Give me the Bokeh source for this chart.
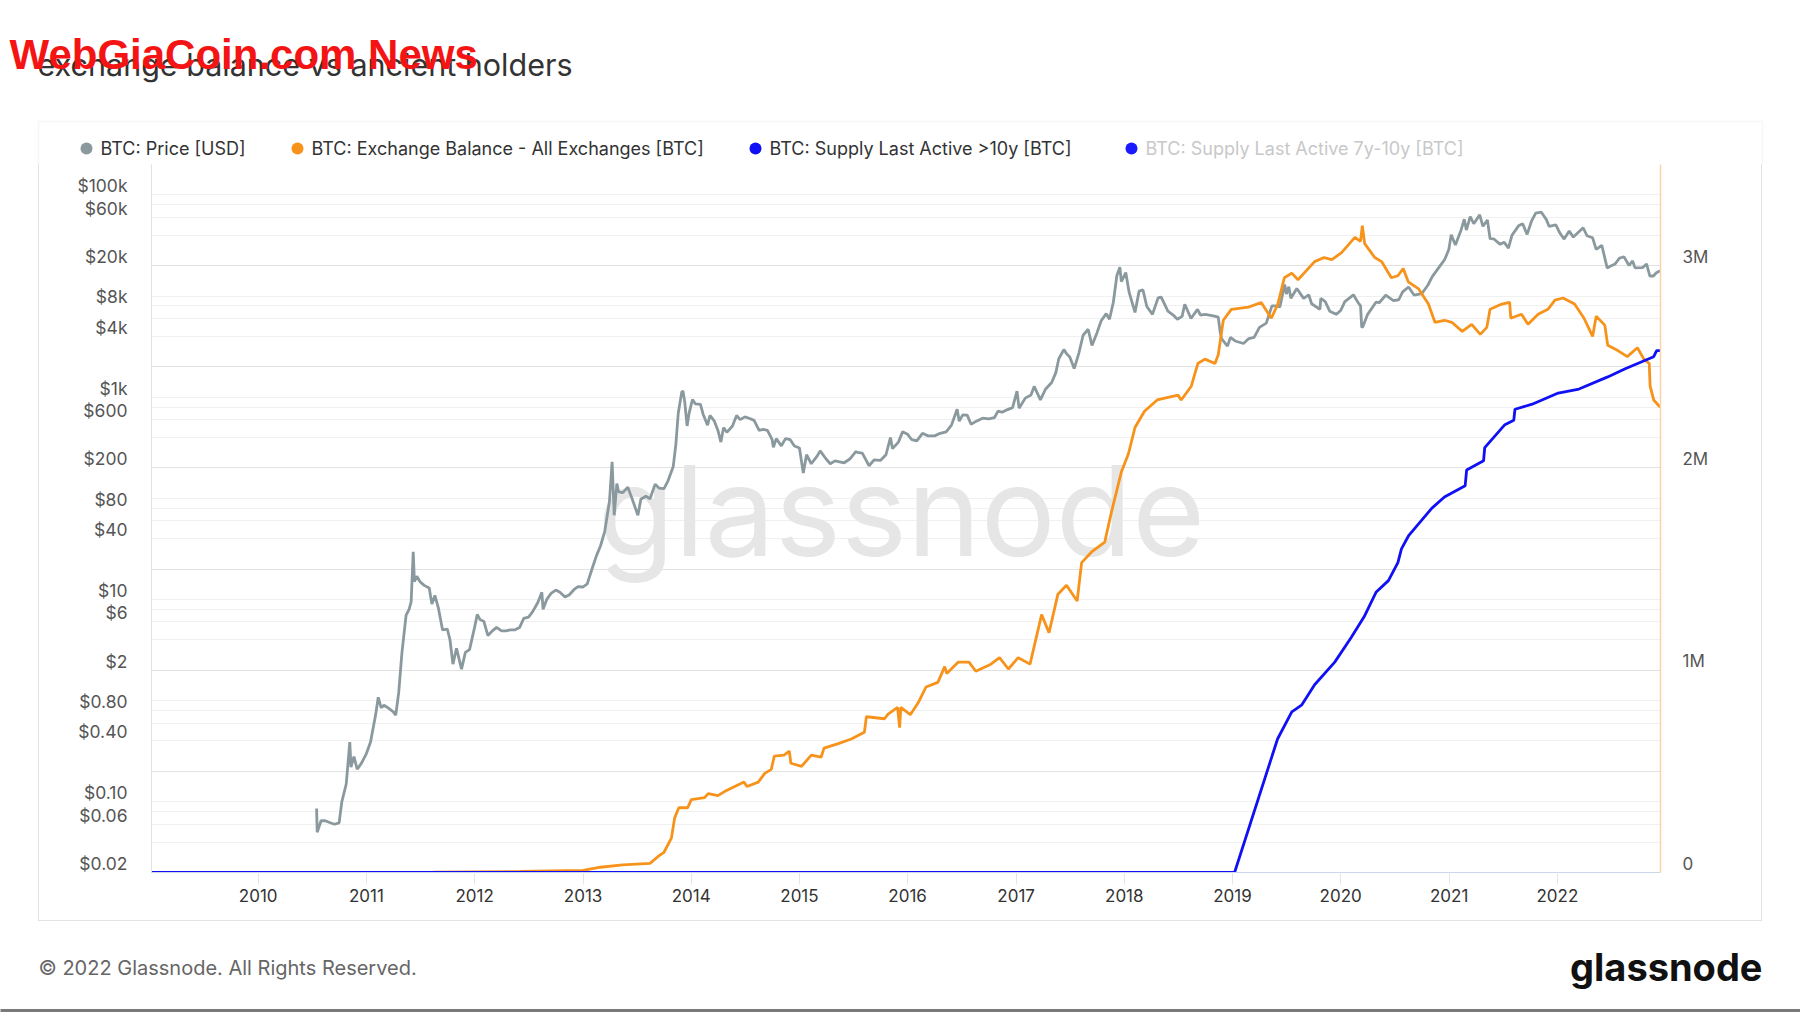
import pandas as pd
from bokeh.plotting import figure
from bokeh.layouts import column, row
from bokeh.models import (Range1d, LinearScale, LogScale, LogAxis, LinearAxis, DatetimeAxis,
                          FixedTicker, Grid, Label, BoxAnnotation, Spacer)
from bokeh.embed import file_html
from bokeh.resources import INLINE

# ---------------- data ----------------
price_dates = [
    "2010-07-17", "2010-07-19", "2010-08-01", "2010-08-15", "2010-09-01", "2010-09-15", "2010-10-01",
    "2010-10-10", "2010-10-25", "2010-11-06", "2010-11-10", "2010-11-20", "2010-12-01", "2010-12-15",
    "2011-01-01", "2011-01-15", "2011-02-01", "2011-02-10", "2011-02-20", "2011-03-01", "2011-03-15",
    "2011-04-01", "2011-04-10", "2011-04-20", "2011-05-01", "2011-05-15", "2011-05-25", "2011-06-01",
    "2011-06-08", "2011-06-12", "2011-06-20", "2011-07-01", "2011-07-15", "2011-08-01", "2011-08-10",
    "2011-08-20", "2011-09-01", "2011-09-15", "2011-10-01", "2011-10-10", "2011-10-20", "2011-11-01",
    "2011-11-18", "2011-12-01", "2011-12-15", "2012-01-01", "2012-01-10", "2012-01-20", "2012-02-01",
    "2012-02-15", "2012-03-01", "2012-03-15", "2012-04-01", "2012-04-15", "2012-05-01", "2012-05-15",
    "2012-06-01", "2012-06-15", "2012-07-01", "2012-07-15", "2012-08-01", "2012-08-15", "2012-08-19",
    "2012-09-01", "2012-09-15", "2012-10-01", "2012-10-15", "2012-11-01", "2012-11-15", "2012-12-01",
    "2012-12-15", "2013-01-01", "2013-01-15", "2013-02-01", "2013-02-15", "2013-03-01", "2013-03-15",
    "2013-03-31", "2013-04-09", "2013-04-16", "2013-04-25", "2013-05-01", "2013-05-15", "2013-06-01",
    "2013-06-15", "2013-07-05", "2013-07-15", "2013-08-01", "2013-08-15", "2013-09-01", "2013-09-15",
    "2013-10-01", "2013-10-15", "2013-11-01", "2013-11-10", "2013-11-18", "2013-11-30", "2013-12-04",
    "2013-12-10", "2013-12-18", "2013-12-25", "2014-01-05", "2014-01-15", "2014-02-01", "2014-02-10",
    "2014-02-25", "2014-03-05", "2014-03-20", "2014-04-01", "2014-04-11", "2014-04-20", "2014-05-01",
    "2014-05-20", "2014-06-03", "2014-06-15", "2014-07-01", "2014-07-15", "2014-08-01", "2014-08-18",
    "2014-09-01", "2014-09-15", "2014-10-01", "2014-10-05", "2014-10-15", "2014-11-01", "2014-11-15",
    "2014-12-01", "2014-12-15", "2015-01-01", "2015-01-14", "2015-01-25", "2015-02-10", "2015-03-01",
    "2015-03-12", "2015-04-01", "2015-04-15", "2015-05-01", "2015-06-01", "2015-06-20", "2015-07-10",
    "2015-07-15", "2015-08-01", "2015-08-24", "2015-09-10", "2015-10-01", "2015-10-20", "2015-11-04",
    "2015-11-11", "2015-12-01", "2015-12-15", "2016-01-01", "2016-01-15", "2016-02-01", "2016-02-20",
    "2016-03-10", "2016-04-01", "2016-04-20", "2016-05-10", "2016-05-28", "2016-06-16", "2016-06-23",
    "2016-07-05", "2016-07-20", "2016-08-02", "2016-08-20", "2016-09-10", "2016-10-01", "2016-10-20",
    "2016-11-01", "2016-11-15", "2016-12-01", "2016-12-20", "2017-01-04", "2017-01-11", "2017-02-01",
    "2017-02-20", "2017-03-03", "2017-03-24", "2017-04-10", "2017-05-01", "2017-05-15", "2017-05-25",
    "2017-06-11", "2017-06-20", "2017-07-01", "2017-07-16", "2017-08-01", "2017-08-15", "2017-09-01",
    "2017-09-14", "2017-10-01", "2017-10-15", "2017-11-01", "2017-11-12", "2017-11-25", "2017-12-07",
    "2017-12-17", "2017-12-22", "2018-01-06", "2018-01-17", "2018-02-06", "2018-02-20", "2018-03-05",
    "2018-03-18", "2018-04-06", "2018-04-25", "2018-05-05", "2018-05-28", "2018-06-15", "2018-06-29",
    "2018-07-15", "2018-07-24", "2018-08-14", "2018-09-05", "2018-09-15", "2018-10-01", "2018-11-01",
    "2018-11-14", "2018-11-20", "2018-11-25", "2018-12-15", "2018-12-25", "2019-01-10", "2019-02-07",
    "2019-02-25", "2019-03-15", "2019-04-02", "2019-04-25", "2019-05-14", "2019-05-25", "2019-06-10",
    "2019-06-26", "2019-07-02", "2019-07-10", "2019-07-17", "2019-08-06", "2019-08-29", "2019-09-15",
    "2019-09-25", "2019-10-23", "2019-10-26", "2019-11-10", "2019-11-25", "2019-12-17", "2020-01-01",
    "2020-01-15", "2020-02-13", "2020-02-28", "2020-03-08", "2020-03-12", "2020-03-16", "2020-04-01",
    "2020-04-29", "2020-05-10", "2020-06-01", "2020-06-27", "2020-07-15", "2020-07-28", "2020-08-17",
    "2020-09-05", "2020-10-01", "2020-10-21", "2020-11-05", "2020-11-30", "2020-12-17", "2020-12-31",
    "2021-01-08", "2021-01-22", "2021-02-10", "2021-02-21", "2021-02-28", "2021-03-13", "2021-03-25",
    "2021-04-14", "2021-04-25", "2021-05-10", "2021-05-19", "2021-06-01", "2021-06-22", "2021-07-06",
    "2021-07-20", "2021-08-01", "2021-08-23", "2021-09-06", "2021-09-21", "2021-10-06", "2021-10-20",
    "2021-11-08", "2021-11-25", "2021-12-04", "2021-12-27", "2022-01-10", "2022-01-24", "2022-02-10",
    "2022-02-24", "2022-03-29", "2022-04-11", "2022-04-30", "2022-05-12", "2022-05-31", "2022-06-18",
    "2022-06-30", "2022-07-15", "2022-07-30", "2022-08-14", "2022-08-31", "2022-09-12", "2022-09-20",
    "2022-10-15", "2022-10-29", "2022-11-09", "2022-11-21", "2022-12-01", "2022-12-14",
]
price_usd = [
    0.086, 0.05, 0.065, 0.065, 0.062, 0.06, 0.062,
    0.10, 0.15, 0.39, 0.22, 0.28, 0.21, 0.24,
    0.30, 0.39, 0.72, 1.08, 0.85, 0.90, 0.85,
    0.78, 0.72, 1.20, 3.0, 7.0, 8.0, 9.5,
    29.6, 15.0, 17.0, 15.0, 13.8, 13.0, 9.0,
    11.0, 8.2, 5.0, 5.1, 4.0, 2.3, 3.3,
    2.05, 3.0, 3.2, 5.3, 7.1, 6.3, 6.1,
    4.4, 4.9, 5.3, 4.9, 4.9, 5.0, 5.0,
    5.3, 6.5, 6.7, 7.6, 9.3, 11.8, 8.0,
    10.1, 11.5, 12.4, 11.8, 10.6, 11.1, 12.5,
    13.4, 13.3, 14.3, 20.4, 27.0, 34.0, 47.0,
    93.0, 230.0, 68.0, 140.0, 116.0, 114.0, 129.0,
    100.0, 68.0, 98.0, 105.0, 99.0, 138.0, 126.0,
    125.0, 150.0, 205.0, 340.0, 690.0, 1130.0, 1150.0,
    900.0, 520.0, 700.0, 950.0, 860.0, 850.0, 680.0,
    530.0, 660.0, 580.0, 470.0, 360.0, 500.0, 450.0,
    520.0, 660.0, 600.0, 640.0, 620.0, 590.0, 470.0,
    480.0, 470.0, 380.0, 320.0, 390.0, 330.0, 390.0,
    380.0, 330.0, 315.0, 178.0, 270.0, 220.0, 260.0,
    295.0, 245.0, 220.0, 235.0, 225.0, 245.0, 290.0,
    285.0, 280.0, 210.0, 240.0, 237.0, 270.0, 400.0,
    310.0, 360.0, 455.0, 430.0, 380.0, 370.0, 440.0,
    415.0, 415.0, 440.0, 455.0, 530.0, 760.0, 580.0,
    670.0, 665.0, 540.0, 580.0, 620.0, 610.0, 630.0,
    730.0, 710.0, 750.0, 790.0, 1150.0, 780.0, 980.0,
    1050.0, 1280.0, 940.0, 1200.0, 1400.0, 1750.0, 2400.0,
    2960.0, 2700.0, 2500.0, 1920.0, 2750.0, 4100.0, 4700.0,
    3250.0, 4350.0, 5700.0, 6700.0, 5900.0, 8700.0, 16000.0,
    19300.0, 13900.0, 17100.0, 11000.0, 6900.0, 11200.0, 11500.0,
    7900.0, 6600.0, 9600.0, 9800.0, 7100.0, 6500.0, 5900.0,
    6300.0, 8300.0, 6000.0, 7400.0, 6500.0, 6600.0, 6350.0,
    6200.0, 4500.0, 3800.0, 3200.0, 3900.0, 3600.0, 3400.0,
    3800.0, 3900.0, 4900.0, 5400.0, 8000.0, 8000.0, 7800.0,
    13000.0, 10500.0, 12400.0, 9500.0, 11900.0, 9500.0, 10300.0,
    8400.0, 7400.0, 9500.0, 8800.0, 7100.0, 6600.0, 7200.0,
    8800.0, 10300.0, 8700.0, 8000.0, 4900.0, 5000.0, 6600.0,
    8700.0, 8600.0, 10200.0, 9000.0, 9200.0, 11000.0, 12300.0,
    10200.0, 10600.0, 12800.0, 15600.0, 19700.0, 23000.0, 29000.0,
    40500.0, 32000.0, 44800.0, 57500.0, 45000.0, 61000.0, 52000.0,
    63500.0, 49000.0, 56500.0, 37000.0, 36700.0, 32500.0, 34000.0,
    29800.0, 40000.0, 49500.0, 52000.0, 40700.0, 55300.0, 66000.0,
    67500.0, 57000.0, 49000.0, 50700.0, 41800.0, 36600.0, 43900.0,
    38300.0, 47400.0, 39500.0, 37700.0, 29000.0, 31800.0, 19000.0,
    19800.0, 20800.0, 23800.0, 24400.0, 20100.0, 22300.0, 19000.0,
    19100.0, 20800.0, 15800.0, 15800.0, 17000.0, 17800.0,
]

balance_dates = [
    "2011-08-15", "2012-06-01", "2013-01-01", "2013-03-01", "2013-05-15", "2013-08-15", "2013-09-10",
    "2013-10-01", "2013-10-26", "2013-11-06", "2013-11-20", "2013-12-20", "2014-01-01", "2014-02-15",
    "2014-02-27", "2014-04-01", "2014-04-23", "2014-06-28", "2014-07-08", "2014-08-15", "2014-09-06",
    "2014-09-28", "2014-10-08", "2014-11-10", "2014-11-28", "2014-12-03", "2015-01-08", "2015-02-10",
    "2015-03-15", "2015-03-25", "2015-05-12", "2015-06-25", "2015-08-08", "2015-08-15", "2015-10-15",
    "2015-10-27", "2015-11-28", "2015-12-05", "2015-12-09", "2016-01-10", "2016-02-06", "2016-03-03",
    "2016-04-12", "2016-05-05", "2016-05-12", "2016-06-20", "2016-07-26", "2016-08-18", "2016-10-08",
    "2016-11-06", "2016-12-06", "2017-01-08", "2017-02-17", "2017-03-03", "2017-03-28", "2017-04-22",
    "2017-05-22", "2017-06-20", "2017-07-26", "2017-08-10", "2017-09-15", "2017-10-27", "2017-11-18",
    "2017-12-22", "2018-01-15", "2018-02-06", "2018-03-10", "2018-04-22", "2018-07-01", "2018-07-12",
    "2018-08-15", "2018-09-06", "2018-09-30", "2018-11-03", "2018-11-14", "2018-12-01", "2018-12-28",
    "2019-02-24", "2019-04-08", "2019-05-12", "2019-06-03", "2019-06-25", "2019-07-20", "2019-08-10",
    "2019-10-05", "2019-11-06", "2019-12-02", "2020-01-04", "2020-02-18", "2020-03-08", "2020-03-14",
    "2020-03-22", "2020-04-25", "2020-05-18", "2020-06-20", "2020-07-12", "2020-07-30", "2020-08-16",
    "2020-09-20", "2020-10-23", "2020-11-14", "2020-12-16", "2021-01-10", "2021-02-14", "2021-03-18",
    "2021-04-16", "2021-05-08", "2021-05-19", "2021-06-28", "2021-07-24", "2021-07-28", "2021-09-02",
    "2021-09-24", "2021-10-28", "2021-11-30", "2021-12-24", "2022-01-20", "2022-02-28", "2022-04-01",
    "2022-04-30", "2022-05-12", "2022-06-10", "2022-06-20", "2022-07-24", "2022-08-25", "2022-09-28",
    "2022-10-20", "2022-11-07", "2022-11-10", "2022-11-22", "2022-12-14",
]
balance_btc_m = [
    0.002, 0.005, 0.010, 0.026, 0.038, 0.045, 0.078,
    0.10, 0.17, 0.27, 0.32, 0.32, 0.36, 0.37,
    0.39, 0.38, 0.40, 0.447, 0.425, 0.447, 0.49,
    0.51, 0.575, 0.58, 0.60, 0.54, 0.525, 0.58,
    0.57, 0.615, 0.637, 0.66, 0.693, 0.77, 0.76,
    0.783, 0.816, 0.716, 0.816, 0.78, 0.84, 0.917,
    0.94, 1.018, 0.984, 1.04, 1.04, 0.995, 1.03,
    1.062, 1.006, 1.062, 1.03, 1.118, 1.275, 1.185,
    1.376, 1.42, 1.342, 1.532, 1.588, 1.633, 1.778,
    1.98, 2.07, 2.20, 2.28, 2.336, 2.36, 2.336,
    2.404, 2.516, 2.538, 2.516, 2.56, 2.73, 2.784,
    2.795, 2.818, 2.74, 2.81, 2.94, 2.963, 2.93,
    3.02, 3.04, 3.03, 3.064, 3.14, 3.12, 3.198,
    3.109, 3.04, 3.02, 2.94, 2.95, 2.986, 2.92,
    2.885, 2.81, 2.72, 2.73, 2.72, 2.675, 2.71,
    2.66, 2.695, 2.784, 2.81, 2.818, 2.74, 2.76,
    2.71, 2.76, 2.784, 2.83, 2.84, 2.81, 2.74,
    2.65, 2.75, 2.706, 2.606, 2.58, 2.55, 2.594,
    2.538, 2.516, 2.404, 2.336, 2.30,
]

supply_10y_dates = [
    "2009-01-03", "2019-01-08", "2019-06-02", "2019-07-20", "2019-08-22", "2019-10-05", "2019-12-12",
    "2020-02-06", "2020-03-20", "2020-04-30", "2020-06-10", "2020-07-12", "2020-07-24", "2020-08-18",
    "2020-11-03", "2020-12-16", "2021-02-24", "2021-03-01", "2021-04-27", "2021-05-01", "2021-07-08",
    "2021-08-07", "2021-08-11", "2021-10-08", "2022-01-04", "2022-03-15", "2022-06-20", "2022-08-18",
    "2022-11-22", "2022-12-02", "2022-12-14",
]
supply_10y_btc_m = [
    0.0, 0.0, 0.66, 0.794, 0.827, 0.928, 1.04,
    1.163, 1.264, 1.387, 1.443, 1.532, 1.60, 1.667,
    1.80, 1.856, 1.912, 1.99, 2.035, 2.10, 2.214,
    2.236, 2.29, 2.315, 2.37, 2.39, 2.45, 2.49,
    2.55, 2.58, 2.58,
]

left_tick_values = [1e5, 6e4, 2e4, 8e3, 4e3, 1e3, 600, 200, 80, 40, 10, 6, 2, 0.8, 0.4, 0.1, 0.06, 0.02]
left_tick_labels = ["$100k", "$60k", "$20k", "$8k", "$4k", "$1k", "$600", "$200", "$80", "$40",
                    "$10", "$6", "$2", "$0.80", "$0.40", "$0.10", "$0.06", "$0.02"]
grid_major_values = [0.02, 0.2, 2, 20, 200, 2000, 20000, 200000]
grid_minor_values = [0.04, 0.06, 0.08, 0.1, 0.4, 0.6, 0.8, 1, 4, 6, 8, 10, 40, 60, 80, 100,
                     400, 600, 800, 1000, 4000, 6000, 8000, 10000, 40000, 60000, 80000, 100000]
right_tick_values = [0, 1e6, 2e6, 3e6]
right_tick_labels = ["0", "1M", "2M", "3M"]
year_ticks = list(range(2010, 2023))
series_names = ["BTC: Price [USD]", "BTC: Exchange Balance - All Exchanges [BTC]",
                "BTC: Supply Last Active >10y [BTC]", "BTC: Supply Last Active 7y-10y [BTC]"]

# ---------------- layout constants (page pixels) ----------------
W, H = 1800, 1013
BOX_L, BOX_R, BOX_T, BOX_B = 38, 1762, 121, 921
FL, FR, FT, FB = 150, 1659, 164, 872
FONT = "Inter"
C_PRICE, C_BAL, C_10Y = "#8a999e", "#f7931a", "#1010f5"
Y_LO, Y_HI = 0.02, 2e5
R_HI = 3.5e6
LABEL_SHIFT = 9.0
px_per_dec = (FB - FT) / 7.0
d = LABEL_SHIFT / px_per_dec
rs = LABEL_SHIFT / (FB - FT) * R_HI


def blank(width, height, y_top, y_bottom):
    f = figure(width=width, height=height, x_range=Range1d(0, width), y_range=Range1d(y_bottom, y_top),
               title=None, x_axis_location=None, y_axis_location=None, toolbar_location=None,
               output_backend="svg", min_border=0, outline_line_color=None,
               background_fill_color="white", border_fill_color="white")
    f.grid.visible = False
    return f


# ---------------- header (title, watermark, legend, top of panel box) ----------------
TOP_H = FT
top = blank(W, TOP_H, 0, TOP_H)
top.add_layout(BoxAnnotation(left=BOX_L, right=BOX_R, top=BOX_T, bottom=TOP_H + 20, fill_alpha=0,
                             line_color="#e3e3e3", line_width=1.5))
top.add_layout(Label(x=37, y=64, text="exchange balance vs ancient holders", text_font=FONT,
                     text_font_size="30.5px", text_color="#333333", text_baseline="middle"))
top.add_layout(Label(x=9, y=54, text="WebGiaCoin.com News", text_font="Liberation Sans",
                     text_font_style="bold", text_font_size="42px", text_color="#f51414",
                     text_baseline="middle"))
leg_dot_x = [86, 297, 755, 1131]
leg_colors = [C_PRICE, C_BAL, C_10Y, "#1a1aff"]
leg_text_colors = ["#333333", "#333333", "#333333", "#c8c8c8"]
LEG_Y = 148
top.scatter(x=leg_dot_x, y=[LEG_Y] * 4, marker="circle", size=12, fill_color=leg_colors, line_color=None)
for x0, name, tcol in zip(leg_dot_x, series_names, leg_text_colors):
    top.add_layout(Label(x=x0 + 14, y=LEG_Y, text=name, text_font=FONT, text_font_size="18px",
                         text_color=tcol, text_baseline="middle", text_align="left"))

# ---------------- main chart ----------------
MH = BOX_B - FT
MW = BOX_R - BOX_L
p = figure(width=MW, height=MH, x_axis_type="datetime", y_axis_type="log", title=None,
           x_range=Range1d(pd.Timestamp("2009-01-06"), pd.Timestamp("2022-12-15")),
           y_range=Range1d(Y_LO, Y_HI),
           x_axis_location=None, y_axis_location=None,
           output_backend="svg", toolbar_location=None,
           min_border_left=FL - BOX_L, min_border_right=BOX_R - FR, min_border_top=0,
           min_border_bottom=BOX_B - FB,
           outline_line_color=None, background_fill_color="white", border_fill_color="white",
           styles={"border-left": "1px solid #e3e3e3", "border-right": "1px solid #e3e3e3",
                   "border-bottom": "1px solid #e3e3e3", "box-sizing": "border-box"})
p.grid.visible = False

p.extra_y_ranges = {"right": Range1d(0, R_HI),
                    "llbl": Range1d(Y_LO * 10 ** (-d), Y_HI * 10 ** (-d)),
                    "rlbl": Range1d(-rs, R_HI - rs),
                    "px": Range1d(FB, FT)}
p.extra_y_scales = {"right": LinearScale(), "llbl": LogScale(), "rlbl": LinearScale(), "px": LinearScale()}
p.extra_x_ranges = {"px": Range1d(FL, FR)}
p.extra_x_scales = {"px": LinearScale()}

p.add_layout(Grid(dimension=1, ticker=FixedTicker(ticks=grid_minor_values), grid_line_color="#f0f0f0"))
p.add_layout(Grid(dimension=1, ticker=FixedTicker(ticks=grid_major_values), grid_line_color="#e2e2e2"))

p.add_layout(Label(x=900, y=510, x_range_name="px", y_range_name="px", text="glassnode",
                   text_font=FONT, text_font_size="125px", text_color="#e6e6e6",
                   text_align="center", text_baseline="alphabetic", level="underlay"))

la = LogAxis(y_range_name="llbl", ticker=FixedTicker(ticks=left_tick_values),
             major_label_overrides={v: s for v, s in zip(left_tick_values, left_tick_labels)},
             axis_line_color="#dde2ea", major_tick_line_color=None, minor_tick_line_color=None,
             major_label_standoff=18, major_label_text_font=FONT, major_label_text_font_size="17.5px",
             major_label_text_color="#555555")
p.add_layout(la, "left")

ra = LinearAxis(y_range_name="rlbl", ticker=FixedTicker(ticks=right_tick_values),
                major_label_overrides={v: s for v, s in zip(right_tick_values, right_tick_labels)},
                axis_line_color="#fcd3a6", axis_line_width=1.5, major_tick_line_color=None,
                minor_tick_line_color=None, major_label_standoff=16, major_label_text_font=FONT,
                major_label_text_font_size="17px", major_label_text_color="#555555")
p.add_layout(ra, "right")

year_ms = [pd.Timestamp(f"{y}-01-01").value / 1e6 for y in year_ticks]
xa = DatetimeAxis(ticker=FixedTicker(ticks=year_ms),
                  major_label_overrides={m: str(y) for m, y in zip(year_ms, year_ticks)},
                  axis_line_color="#ccd6eb", major_tick_out=12, major_tick_in=0,
                  major_tick_line_color="#e6e6e6", minor_tick_line_color=None,
                  major_label_standoff=4, major_label_text_font=FONT,
                  major_label_text_font_size="17px", major_label_text_color="#333333")
p.add_layout(xa, "below")

p.line(x=pd.to_datetime(price_dates), y=price_usd, line_color=C_PRICE, line_width=2.8)
p.line(x=pd.to_datetime(balance_dates), y=[v * 1e6 for v in balance_btc_m], y_range_name="right",
       line_color=C_BAL, line_width=2.8)
p.line(x=pd.to_datetime(supply_10y_dates), y=[v * 1e6 for v in supply_10y_btc_m], y_range_name="right",
       line_color=C_10Y, line_width=2.8)

# ---------------- footer ----------------
BOT_H = H - BOX_B - 1
bot = blank(W, BOT_H, BOX_B + 1, H)
bot.add_layout(Label(x=38, y=968, text="© 2022 Glassnode. All Rights Reserved.", text_font=FONT,
                     text_font_size="20px", text_color="#666666", text_baseline="middle"))
bot.add_layout(Label(x=1762, y=967, text="glassnode", text_font=FONT, text_font_style="bold",
                     text_font_size="38px", text_color="#111111", text_baseline="middle", text_align="right"))
bot.add_layout(BoxAnnotation(left=-10, right=W + 10, top=1009.5, bottom=H + 5, fill_color="#7a7a7a",
                             fill_alpha=1, line_color=None))

page = column(top, row(Spacer(width=BOX_L, height=MH), p), bot, spacing=0)
open("out.html", "w").write(file_html(page, INLINE, title="exchange balance vs ancient holders"))
